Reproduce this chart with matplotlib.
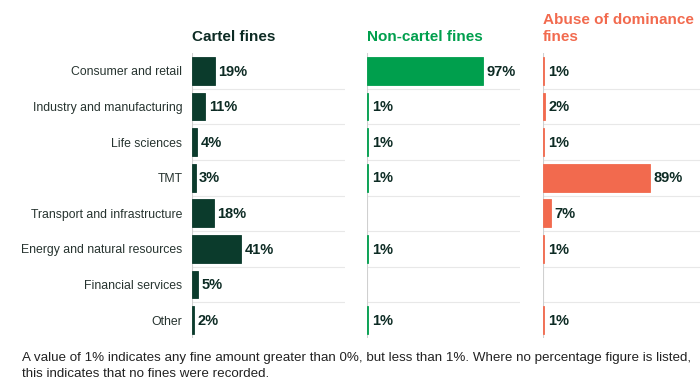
import matplotlib.pyplot as plt
import numpy as np

plt.rcParams['font.family'] = ['Liberation Sans', 'DejaVu Sans']

categories = ["Consumer and retail", "Industry and manufacturing", "Life sciences", "TMT",
              "Transport and infrastructure", "Energy and natural resources",
              "Financial services", "Other"]
cartel = [19, 11, 4, 3, 18, 41, 5, 2]
non_cartel = [97, 1, 1, 1, None, 1, None, 1]
abuse = [1, 2, 1, 89, 7, 1, None, 1]

titles = ["Cartel fines", "Non-cartel fines", "Abuse of dominance\nfines"]
colors = ["#0b3b2c", "#009f4d", "#f26a4e"]
series = [cartel, non_cartel, abuse]

fig = plt.figure(figsize=(7, 3.87), dpi=100)

px = 1 / 700
bottom = 1 - 338 / 387
height = (338 - 53) / 387
lefts = [192, 367, 543]
widths = [153, 153, 157]
text_dark = "#0d2b24"

y = np.arange(len(categories))
for i in range(3):
    ax = fig.add_axes([lefts[i] * px, bottom, widths[i] * px, height])
    ys = [yi for yi, v in zip(y, series[i]) if v is not None]
    vals = [v for v in series[i] if v is not None]
    ax.barh(ys, vals, height=0.78, color=colors[i], edgecolor=colors[i],
            linewidth=0.6, zorder=3)
    for yi, v in zip(ys, vals):
        ax.annotate(f"{v}%", (v, yi), xytext=(2.5, -0.5), textcoords="offset points",
                    va="center", ha="left", fontsize=10.5, fontweight="bold", color=text_dark)
    ax.set_xlim(0, widths[i] / 1.2)
    ax.set_ylim(len(categories) - 0.5, -0.5)
    for k in range(len(categories) - 1):
        ax.axhline(k + 0.5, color="#e8e8e8", lw=0.8, zorder=1)
    ax.axvline(0, color="#d0d0d0", lw=0.8, zorder=1)
    for s in ax.spines.values():
        s.set_visible(False)
    ax.set_xticks([])
    if i == 0:
        ax.set_yticks(y)
        ax.set_yticklabels(categories, fontsize=8.8, color="#26332f")
        ax.tick_params(axis="y", length=0, pad=7)
    else:
        ax.set_yticks([])
    fig.text(lefts[i] * px, 1 - 44 / 387, titles[i], ha="left", va="bottom",
             fontsize=11, fontweight="bold", color=colors[i] if i else text_dark,
             linespacing=1.3)

fig.text(22 * px, 1 - 366 / 387,
         "A value of 1% indicates any fine amount greater than 0%, but less than 1%. "
         "Where no percentage figure is listed,\nthis indicates that no fines were recorded.",
         ha="left", va="center", fontsize=9.6, color="#222222", linespacing=1.4)

fig.savefig("out.png", dpi=100)
